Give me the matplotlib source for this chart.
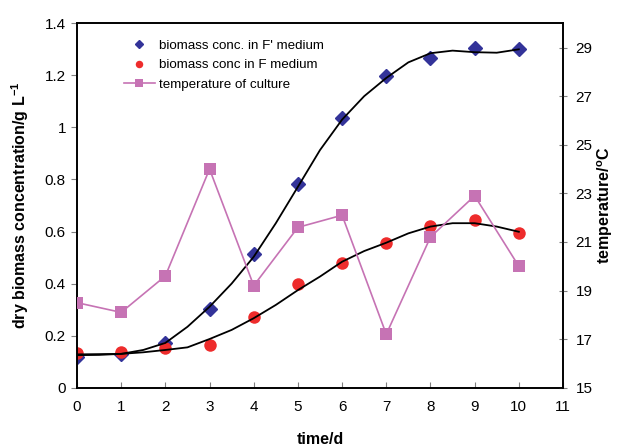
import matplotlib.pyplot as plt

plt.rcParams['font.family'] = ['Liberation Sans', 'DejaVu Sans']
plt.rcParams['mathtext.fontset'] = 'custom'
plt.rcParams['mathtext.rm'] = 'Liberation Sans'
plt.rcParams['mathtext.bf'] = 'Liberation Sans:bold'

# measured points
days = [0, 1, 2, 3, 4, 5, 6, 7, 8, 9, 10]
biomass_fp = [0.117, 0.13, 0.173, 0.301, 0.512, 0.781, 1.035, 1.197, 1.268, 1.304, 1.300]
biomass_f = [0.132, 0.138, 0.151, 0.164, 0.273, 0.397, 0.478, 0.555, 0.622, 0.644, 0.595]
temperature = [18.5, 18.1, 19.6, 24.0, 19.2, 21.6, 22.1, 17.2, 21.2, 22.9, 20.0]

# fitted curves, every half day
fit_t = [0, 0.5, 1, 1.5, 2, 2.5, 3, 3.5, 4, 4.5, 5, 5.5, 6, 6.5, 7, 7.5, 8, 8.5, 9, 9.5, 10]
fit_fp = [0.125, 0.126, 0.13, 0.145, 0.172, 0.234, 0.311, 0.40, 0.503, 0.632, 0.772, 0.913,
          1.03, 1.12, 1.19, 1.25, 1.285, 1.295, 1.289, 1.287, 1.30]
fit_f = [0.128, 0.129, 0.13, 0.136, 0.145, 0.155, 0.187, 0.222, 0.267, 0.318, 0.375, 0.427,
         0.484, 0.525, 0.557, 0.593, 0.619, 0.632, 0.632, 0.619, 0.599]

x_ticks = list(range(12))
left_ticks = [0, 0.2, 0.4, 0.6, 0.8, 1.0, 1.2, 1.4]
left_labels = ['0', '0.2', '0.4', '0.6', '0.8', '1', '1.2', '1.4']
right_ticks = [15, 17, 19, 21, 23, 25, 27, 29]

navy = '#333399'
red = '#EE2C2C'
pink = '#C673B4'

fig = plt.figure(figsize=(6.23, 4.48), dpi=100)
ax = fig.add_axes([0.1236, 0.1346, 0.7801, 0.8134])

ax.plot(days, biomass_fp, 'D', color=navy, markersize=6.8, label="biomass conc. in F' medium", zorder=2)
ax.plot(days, biomass_f, 'o', color=red, markersize=9, markeredgewidth=0, label='biomass conc in F medium', zorder=2)
ax.plot(fit_t, fit_fp, '-', color='black', lw=1.3, zorder=3)
ax.plot(fit_t, fit_f, '-', color='black', lw=1.3, zorder=3)

ax.set_xlim(0, 11)
ax.set_ylim(0, 1.4)
ax.set_xticks(x_ticks)
ax.set_yticks(left_ticks)
ax.set_yticklabels(left_labels)
ax.tick_params(axis='y', direction='out', length=4, color='gray', labelsize=11, pad=4)
ax.tick_params(axis='x', direction='in', length=4, color='gray', labelsize=11, pad=9)
ax.set_xlabel('time/d', fontsize=11.5, fontweight='bold', labelpad=13)
ax.set_ylabel('dry biomass concentration/g L$^{\\mathbf{-1}}$', fontsize=11.5, fontweight='bold', labelpad=10)

ax2 = ax.twinx()
ax2.plot(days, temperature, '-s', color=pink, markersize=9.3, markeredgewidth=0, lw=1.2,
         label='temperature of culture', zorder=4)
ax2.set_ylim(15, 30)
ax2.set_yticks(right_ticks)
ax2.tick_params(axis='y', direction='inout', length=6, color='gray', labelsize=11, pad=6)
ax2.set_ylabel('temperature/$^{\\mathbf{o}}$C', fontsize=11.5, fontweight='bold', labelpad=2)

for a in (ax, ax2):
    for s in a.spines.values():
        s.set_linewidth(1.2)
        s.set_color('black')

h1, l1 = ax.get_legend_handles_labels()
h2, l2 = ax2.get_legend_handles_labels()
ax.legend(h1 + h2, l1 + l2, loc='upper left', bbox_to_anchor=(0.075, 0.985), frameon=False,
          fontsize=9.6, handlelength=2.3, handletextpad=0.3, labelspacing=0.55, borderpad=0.3,
          markerscale=0.6)

fig.savefig('out.png', dpi=100)
